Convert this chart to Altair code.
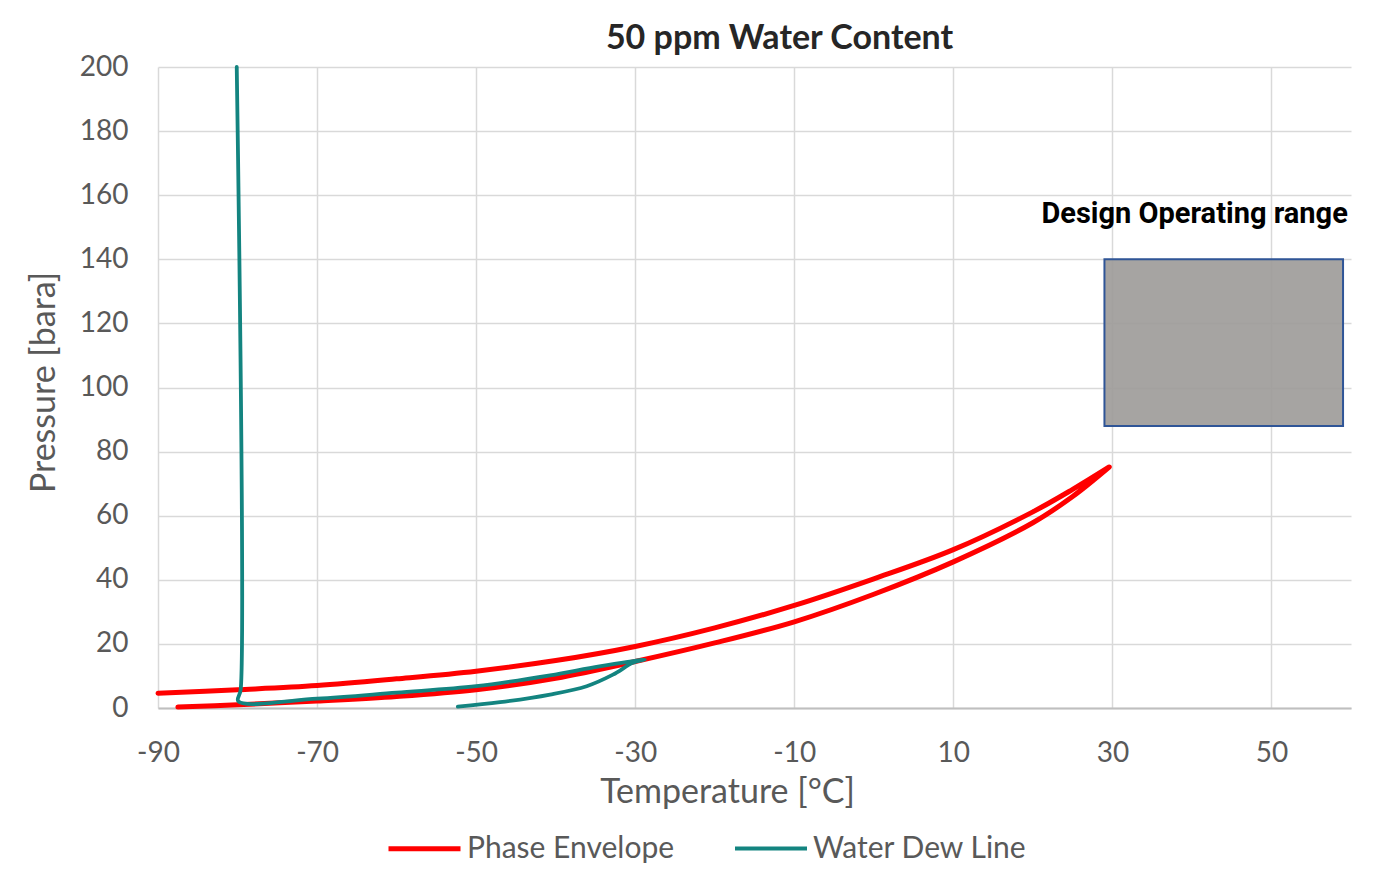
import altair as alt
import pandas as pd

# ---- data ----
series_names = ["Phase Envelope", "Water Dew Line"]
series_colors = ["#ff0000", "#138480"]

# phase envelope: lower (bubble) branch up to the critical point, then upper branch back
env_lower_T = [-87.5, -80, -70, -60, -50, -40, -30, -20, -10, 0, 10, 20, 25, 29.6]
env_lower_P = [0.3, 1.0, 2.2, 3.6, 5.7, 9.3, 14.5, 20.3, 26.9, 35.5, 45.6, 57.8, 66.0, 75.2]
env_upper_T = [29.6, 25, 20, 10, 0, -10, -20, -30, -40, -50, -60, -70, -80, -90]
env_upper_P = [75.2, 68.2, 61.2, 49.4, 40.3, 32.0, 25.0, 19.2, 14.8, 11.5, 9.1, 7.0, 5.7, 4.6]

# water dew line: vertical part, lower branch, tip, then return curve
dew_T = [-80.1, -79.6, -79.9, -70, -60, -50, -40.7, -34.5, -28.8, -30.3, -32.8, -36.1, -40.7, -47, -52.3]
dew_P = [200, 5.8, 2.1, 2.9, 4.8, 6.8, 10.2, 13.0, 15.1, 14.1, 10.4, 6.8, 4.2, 1.8, 0.4]

op_T = [29, 59]
op_P = [88, 140]
op_label = "Design Operating range"
op_label_T = 59.6
op_label_P = 154

x_ticks = [-90, -70, -50, -30, -10, 10, 30, 50]
y_ticks = [0, 20, 40, 60, 80, 100, 120, 140, 160, 180, 200]

title_text = "50 ppm Water Content"
x_title = "Temperature [°C]"
y_title = "Pressure [bara]"

# ---- tables ----
env_T = env_lower_T + env_upper_T
env_P = env_lower_P + env_upper_P
rows = []
for i, (t, p) in enumerate(zip(env_T, env_P)):
    rows.append({"series": series_names[0], "T": t, "P": p, "idx": i})
for i, (t, p) in enumerate(zip(dew_T, dew_P)):
    rows.append({"series": series_names[1], "T": t, "P": p, "idx": i})
lines_df = pd.DataFrame(rows)

rect_df = pd.DataFrame({"T1": [op_T[0]], "T2": [op_T[1]], "P1": [op_P[0]], "P2": [op_P[1]]})
label_df = pd.DataFrame({"T": [op_label_T], "P": [op_label_P], "label": [op_label]})

x_scale = alt.Scale(domain=[-90, 60], nice=False, zero=False)
y_scale = alt.Scale(domain=[0, 200], nice=False)

FONT = "Lato"
GRAY = "#595959"

rect = alt.Chart(rect_df).mark_rect(
    fill="#9c9a98", fillOpacity=0.9, stroke="#2f5597", strokeWidth=2
).encode(
    x=alt.X("T1:Q", scale=x_scale),
    x2="T2:Q",
    y=alt.Y("P1:Q", scale=y_scale),
    y2="P2:Q",
)

label = alt.Chart(label_df).mark_text(
    font="Roboto", fontWeight="bold", fontSize=29, color="#000000",
    align="right", baseline="middle"
).encode(
    x=alt.X("T:Q", scale=x_scale),
    y=alt.Y("P:Q", scale=y_scale),
    text="label:N",
)

lines = alt.Chart(lines_df).mark_line(
    strokeCap="round", strokeJoin="round", interpolate="catmull-rom"
).encode(
    x=alt.X(
        "T:Q", scale=x_scale,
        axis=alt.Axis(
            title=x_title, values=x_ticks, grid=True, ticks=False,
            domain=True, domainColor="#bfbfbf", domainWidth=2,
            labelPadding=31, titlePadding=8, labelFlush=False,
            labelExpr="'' + datum.value",
            titleX=569, titleAlign="center",
        ),
    ),
    y=alt.Y(
        "P:Q", scale=y_scale,
        axis=alt.Axis(
            title=y_title, values=y_ticks, grid=True, ticks=False, domain=False,
            labelPadding=30, titlePadding=18, labelFlush=False,
            titleY=315,
        ),
    ),
    color=alt.Color(
        "series:N",
        scale=alt.Scale(domain=series_names, range=series_colors),
        legend=alt.Legend(
            title=None, orient="none", direction="horizontal",
            legendX=228, legendY=743,
            symbolType="stroke", symbolSize=5184, symbolStrokeWidth=5,
            labelFont=FONT, labelFontSize=30, labelColor=GRAY, labelLimit=500,
            columnPadding=52, labelOffset=4,
        ),
    ),
    strokeWidth=alt.StrokeWidth(
        "series:N", scale=alt.Scale(domain=series_names, range=[5, 3.8]), legend=None
    ),
    detail="series:N",
    order=alt.Order("idx:Q"),
)

chart = alt.layer(rect, lines, label).properties(
    width=1193,
    height=641,
    background="white",
    title=alt.TitleParams(
        title_text, font=FONT, fontSize=34, fontWeight="bold", color="#262626",
        anchor="middle", dx=25, offset=-3,
    ),
    autosize=alt.AutoSizeParams(type="none"),
    padding={"left": 150, "top": 59, "right": 17, "bottom": 160},
).configure_axis(
    gridColor="#d9d9d9", gridWidth=1.5,
    labelFont=FONT, labelFontSize=28, labelColor=GRAY,
    titleFont=FONT, titleFontSize=34, titleColor=GRAY, titleFontWeight="normal",
).configure_view(
    stroke=None
)

chart.save("out.html", embed_options={"renderer": "svg", "actions": False})
